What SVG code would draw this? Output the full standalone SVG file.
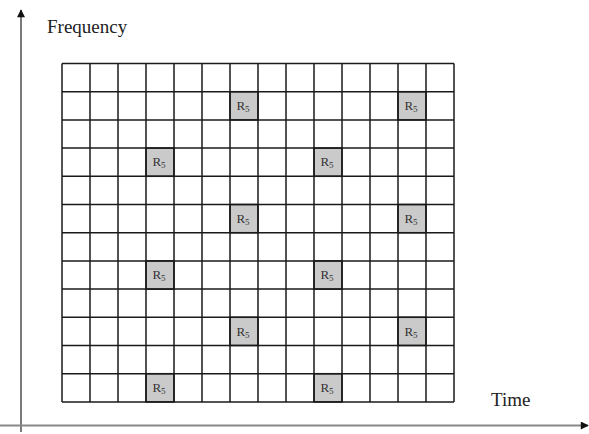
<svg xmlns="http://www.w3.org/2000/svg" width="589" height="434" viewBox="0 0 589 434">
<style>
.rs{fill:#cacaca;stroke:#1a1a1a;stroke-width:1.5}
.lbl{font-family:"Liberation Serif",serif;font-size:19px;fill:#222}
.rl{font-family:"Liberation Serif",serif;font-size:13px;fill:#333}
.sub{font-size:9px}
.ax{stroke:#333;stroke-width:1.3;fill:none}
</style>
<defs>
<marker id="ah" viewBox="0 0 10 10" refX="9" refY="5" markerWidth="9" markerHeight="8" markerUnits="userSpaceOnUse" orient="auto">
<path d="M0,0 L10,5 L0,10 z" fill="#111"/>
</marker>
</defs>
<g id="connectors">
<line class="ax" x1="21" y1="432" x2="21" y2="10" marker-end="url(#ah)"/>
<line x1="0" y1="425.5" x2="588" y2="425.5" stroke="#888" stroke-width="2" marker-end="url(#ah)"/>
</g>
<g id="grid">
<rect x="62" y="63.5" width="392" height="338.4" fill="#fff"/>
<g id="shaded">
<rect class="rs" x="230" y="91.7" width="28" height="28.2"/>
<rect class="rs" x="398" y="91.7" width="28" height="28.2"/>
<rect class="rs" x="146" y="148.1" width="28" height="28.2"/>
<rect class="rs" x="314" y="148.1" width="28" height="28.2"/>
<rect class="rs" x="230" y="204.5" width="28" height="28.2"/>
<rect class="rs" x="398" y="204.5" width="28" height="28.2"/>
<rect class="rs" x="146" y="260.9" width="28" height="28.2"/>
<rect class="rs" x="314" y="260.9" width="28" height="28.2"/>
<rect class="rs" x="230" y="317.3" width="28" height="28.2"/>
<rect class="rs" x="398" y="317.3" width="28" height="28.2"/>
<rect class="rs" x="146" y="373.7" width="28" height="28.2"/>
<rect class="rs" x="314" y="373.7" width="28" height="28.2"/>
</g>
<g stroke="#1a1a1a" stroke-width="1.5">
<line x1="62" y1="63.5" x2="454" y2="63.5"/>
<line x1="62" y1="91.7" x2="454" y2="91.7"/>
<line x1="62" y1="119.9" x2="454" y2="119.9"/>
<line x1="62" y1="148.1" x2="454" y2="148.1"/>
<line x1="62" y1="176.3" x2="454" y2="176.3"/>
<line x1="62" y1="204.5" x2="454" y2="204.5"/>
<line x1="62" y1="232.7" x2="454" y2="232.7"/>
<line x1="62" y1="260.9" x2="454" y2="260.9"/>
<line x1="62" y1="289.1" x2="454" y2="289.1"/>
<line x1="62" y1="317.3" x2="454" y2="317.3"/>
<line x1="62" y1="345.5" x2="454" y2="345.5"/>
<line x1="62" y1="373.7" x2="454" y2="373.7"/>
<line x1="62" y1="401.9" x2="454" y2="401.9"/>
<line x1="62" y1="63.5" x2="62" y2="401.9"/>
<line x1="90" y1="63.5" x2="90" y2="401.9"/>
<line x1="118" y1="63.5" x2="118" y2="401.9"/>
<line x1="146" y1="63.5" x2="146" y2="401.9"/>
<line x1="174" y1="63.5" x2="174" y2="401.9"/>
<line x1="202" y1="63.5" x2="202" y2="401.9"/>
<line x1="230" y1="63.5" x2="230" y2="401.9"/>
<line x1="258" y1="63.5" x2="258" y2="401.9"/>
<line x1="286" y1="63.5" x2="286" y2="401.9"/>
<line x1="314" y1="63.5" x2="314" y2="401.9"/>
<line x1="342" y1="63.5" x2="342" y2="401.9"/>
<line x1="370" y1="63.5" x2="370" y2="401.9"/>
<line x1="398" y1="63.5" x2="398" y2="401.9"/>
<line x1="426" y1="63.5" x2="426" y2="401.9"/>
<line x1="454" y1="63.5" x2="454" y2="401.9"/>
</g>
<g id="labels" class="rl" text-anchor="middle">
<text x="243" y="110">R<tspan class="sub" dy="2">5</tspan></text>
<text x="411" y="110">R<tspan class="sub" dy="2">5</tspan></text>
<text x="159" y="166.4">R<tspan class="sub" dy="2">5</tspan></text>
<text x="327" y="166.4">R<tspan class="sub" dy="2">5</tspan></text>
<text x="243" y="222.8">R<tspan class="sub" dy="2">5</tspan></text>
<text x="411" y="222.8">R<tspan class="sub" dy="2">5</tspan></text>
<text x="159" y="279.2">R<tspan class="sub" dy="2">5</tspan></text>
<text x="327" y="279.2">R<tspan class="sub" dy="2">5</tspan></text>
<text x="243" y="335.6">R<tspan class="sub" dy="2">5</tspan></text>
<text x="411" y="335.6">R<tspan class="sub" dy="2">5</tspan></text>
<text x="159" y="392">R<tspan class="sub" dy="2">5</tspan></text>
<text x="327" y="392">R<tspan class="sub" dy="2">5</tspan></text>
</g>
</g>
<g id="axis-labels">
<text class="lbl" x="47" y="33">Frequency</text>
<text class="lbl" x="491" y="406">Time</text>
</g>
</svg>
